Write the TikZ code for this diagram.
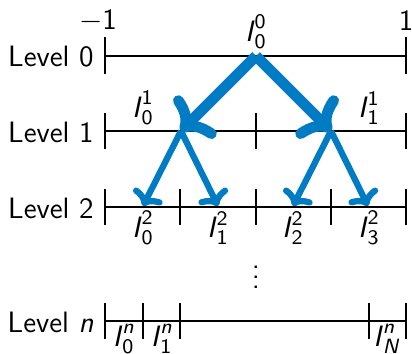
\documentclass[tikz,border=0pt]{standalone}
\usepackage{amsmath}
\usetikzlibrary{arrows.meta}
\definecolor{arrblue}{RGB}{0,123,196}
\newcommand\Ilab[2]{$\textsf{\textit{I}}^{\textsf{#1}}_{\textsf{#2}}$}
\begin{document}
\begin{tikzpicture}[x=0.4pt,y=-0.4pt,
  font=\sffamily\fontsize{11.8}{14}\selectfont,
  lvl/.style={line width=0.45pt},
  tick/.style={line width=0.45pt},
  bigarr/.style={draw=arrblue,line width=4.3pt,-{To[round,length=10pt,width=23pt]}},
  smallarr/.style={draw=arrblue,line width=2.5pt,-{To[round,length=5.5pt,width=13pt]}},
  lab/.style={inner sep=0pt}]
\useasboundingbox (0,0) rectangle (412,353);
% level lines
\foreach \y/\n in {56/0,131/1,207/2,321/n}{
  \coordinate (L\n) at (105,\y);
  \coordinate (R\n) at (406,\y);
  \draw[lvl] (L\n) -- (R\n);
}
% ticks
\foreach \x in {105,406}{\draw[tick] (\x,37) -- (\x,74);}
\foreach \x in {105,256,406}{\draw[tick] (\x,113) -- (\x,149);}
\foreach \x in {105,180,256,331,406}{\draw[tick] (\x,189) -- (\x,225);}
\foreach \x in {105,143,180,369,406}{\draw[tick] (\x,303) -- (\x,339);}
% level labels
\node[lab,anchor=east] (t0) at (94,57) {Level 0};
\node[lab,anchor=east] (t1) at (94,132) {Level 1};
\node[lab,anchor=east] (t2) at (94,208) {Level 2};
\node[lab,anchor=east] (tn) at (94,322) {Level \textit{n}};
% axis labels
\node[lab] (m1) at (98,21) {$-$1};
\node[lab] (p1) at (406,21) {1};
% interval labels
\node[lab] (I00) at (256,32) {\Ilab{0}{0}};
\node[lab] (I10) at (143,108) {\Ilab{1}{0}};
\node[lab] (I11) at (369,108) {\Ilab{1}{1}};
\foreach \k/\x in {0/143,1/218,2/293,3/369}{
  \node[lab] (I2\k) at (\x,228) {\Ilab{2}{\k}};
}
\node[lab] (dots) at (256,270) {$\vdots$};
\node[lab] (In0) at (124,339) {\Ilab{\textit{n}}{0}};
\node[lab] (In1) at (162,339) {\Ilab{\textit{n}}{1}};
\node[lab] (InN) at (387,339) {\Ilab{\textit{n}}{\textit{N}}};
% tree coordinates
\coordinate (a0) at (256,56);
\coordinate (b0) at (181,131);
\coordinate (b1) at (331,131);
\coordinate (c0) at (143,206);
\coordinate (c1) at (218,206);
\coordinate (c2) at (293,206);
\coordinate (c3) at (368,206);
% arrows
\draw[bigarr] (a0) -- (b0);
\draw[bigarr] (a0) -- (b1);
\draw[smallarr] (b0) -- (c0);
\draw[smallarr] (b0) -- (c1);
\draw[smallarr] (b1) -- (c2);
\draw[smallarr] (b1) -- (c3);
\end{tikzpicture}
\end{document}
